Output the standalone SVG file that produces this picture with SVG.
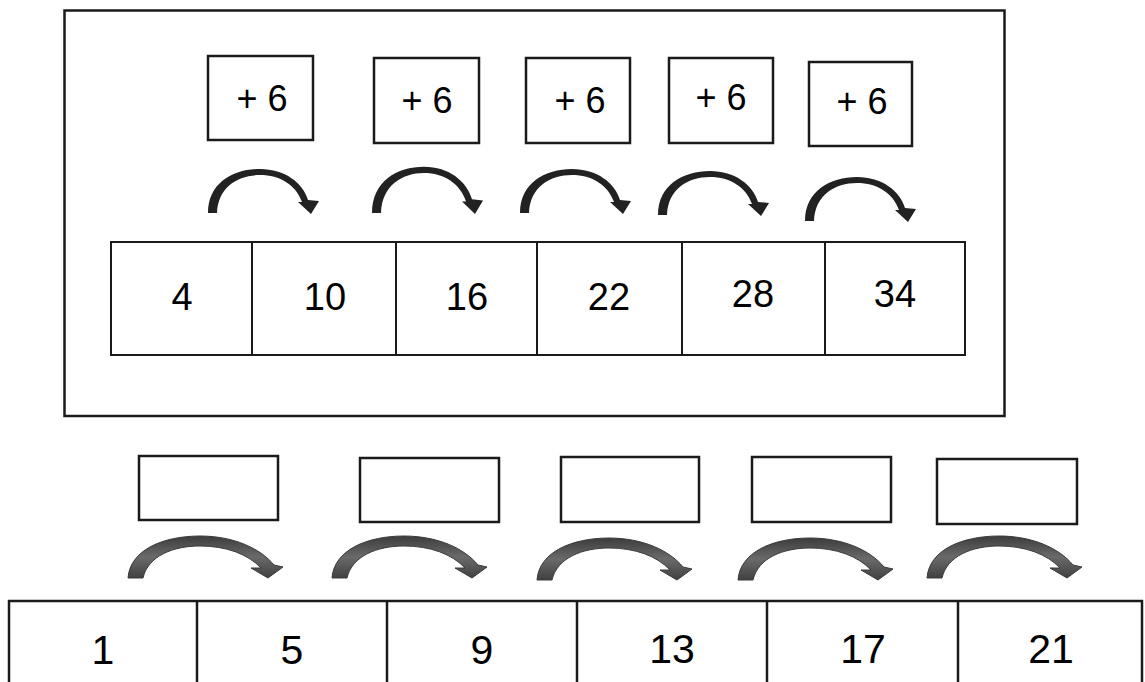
<svg xmlns="http://www.w3.org/2000/svg" width="1145" height="682" viewBox="0 0 1145 682">
<style>
.box{fill:#fff;stroke:#1a1a1a;stroke-width:2.5}
.cell{fill:#fff;stroke:#1a1a1a;stroke-width:2}
.line{stroke:#1a1a1a;stroke-width:2.5;fill:none}
.op{font-family:"Liberation Sans",Arial,sans-serif;font-size:36px;fill:#000;text-anchor:middle}
.num{font-family:"Liberation Sans",Arial,sans-serif;font-size:38px;fill:#000;text-anchor:middle}
.numb{font-family:"Liberation Sans",Arial,sans-serif;font-size:41px;fill:#000;text-anchor:middle}
.ta{fill:#222}
.ba{fill:url(#g);stroke:#3a3a3a;stroke-width:1}
</style>
<defs>
<linearGradient id="g" x1="0" y1="0" x2="0" y2="1">
<stop offset="0" stop-color="#3c3c3c"/>
<stop offset="0.5" stop-color="#6a6a6a"/>
<stop offset="1" stop-color="#404040"/>
</linearGradient>
<path id="tarrow" d="M0,0 C0,-30 25,-44 52,-44 C77,-44 95,-30 100,-13 L111,-12 L103,1 L90,-11 L94,-11 C88,-28 72,-38 52,-38 C30,-38 10,-26 9,0 Z"/>
<path id="barrow" d="M0,0 C2,-28 35,-42 72,-42 C105,-42 132,-30 146,-13 L155,-11 L140,0 L123,-10 L133,-10 C120,-24 98,-32 72,-32 C45,-32 20,-22 15,0 Z"/>
</defs>
<rect width="1145" height="682" fill="#fff"/>
<g id="frame"><rect x="64.5" y="10.5" width="940" height="405.5" fill="none" stroke="#1a1a1a" stroke-width="2.5"/></g>

<g id="op1"><rect class="box" x="208" y="56" width="105" height="84"/><text class="op" x="262" y="111">+ 6</text></g>
<g id="op2"><rect class="box" x="374" y="58" width="105" height="85"/><text class="op" x="427" y="113">+ 6</text></g>
<g id="op3"><rect class="box" x="526" y="58" width="104" height="85"/><text class="op" x="580" y="113">+ 6</text></g>
<g id="op4"><rect class="box" x="669" y="58" width="104" height="85"/><text class="op" x="721" y="110">+ 6</text></g>
<g id="op5"><rect class="box" x="809" y="62" width="103" height="84"/><text class="op" x="862" y="114">+ 6</text></g>

<g id="top-row">
<rect class="cell" x="111" y="242" width="854" height="113"/>
<line class="cell" x1="252" y1="242" x2="252" y2="355"/>
<line class="cell" x1="396" y1="242" x2="396" y2="355"/>
<line class="cell" x1="537" y1="242" x2="537" y2="355"/>
<line class="cell" x1="682" y1="242" x2="682" y2="355"/>
<line class="cell" x1="825" y1="242" x2="825" y2="355"/>
</g>
<g id="c4"><text class="num" x="182" y="310">4</text></g>
<g id="c10"><text class="num" x="325" y="310">10</text></g>
<g id="c16"><text class="num" x="467" y="310">16</text></g>
<g id="c22"><text class="num" x="609" y="310">22</text></g>
<g id="c28"><text class="num" x="753" y="307">28</text></g>
<g id="c34"><text class="num" x="895" y="307">34</text></g>

<g id="blank1"><rect class="box" x="139" y="456" width="139" height="64"/></g>
<g id="blank2"><rect class="box" x="360" y="458" width="139" height="64"/></g>
<g id="blank3"><rect class="box" x="561" y="457" width="138" height="65"/></g>
<g id="blank4"><rect class="box" x="752" y="457" width="139" height="65"/></g>
<g id="blank5"><rect class="box" x="937" y="459" width="140" height="65" stroke-width="3"/></g>

<g id="bottom-row">
<line class="line" x1="8" y1="601" x2="1143" y2="601"/>
<line class="line" x1="9" y1="600" x2="9" y2="682"/>
<line class="line" x1="197" y1="600" x2="197" y2="682"/>
<line class="line" x1="387" y1="600" x2="387" y2="682"/>
<line class="line" x1="577" y1="600" x2="577" y2="682"/>
<line class="line" x1="767" y1="600" x2="767" y2="682"/>
<line class="line" x1="958" y1="600" x2="958" y2="682"/>
<line class="line" x1="1142" y1="600" x2="1142" y2="682"/>
</g>
<g id="b1"><text class="numb" x="103" y="664">1</text></g>
<g id="b5"><text class="numb" x="292" y="664">5</text></g>
<g id="b9"><text class="numb" x="482" y="664">9</text></g>
<g id="b13"><text class="numb" x="672" y="663">13</text></g>
<g id="b17"><text class="numb" x="863" y="663">17</text></g>
<g id="b21"><text class="numb" x="1051" y="663">21</text></g>

<g id="connectors">
<use href="#tarrow" class="ta" transform="translate(208,213)"/>
<use href="#tarrow" class="ta" transform="translate(372,213) scale(1,1.05)"/>
<use href="#tarrow" class="ta" transform="translate(520,213)"/>
<use href="#tarrow" class="ta" transform="translate(658,215)"/>
<use href="#tarrow" class="ta" transform="translate(805,221)"/>
<use href="#barrow" class="ba" transform="translate(128,578)"/>
<use href="#barrow" class="ba" transform="translate(332,578)"/>
<use href="#barrow" class="ba" transform="translate(537,580)"/>
<use href="#barrow" class="ba" transform="translate(738,580)"/>
<use href="#barrow" class="ba" transform="translate(927,578)"/>
</g>
</svg>
